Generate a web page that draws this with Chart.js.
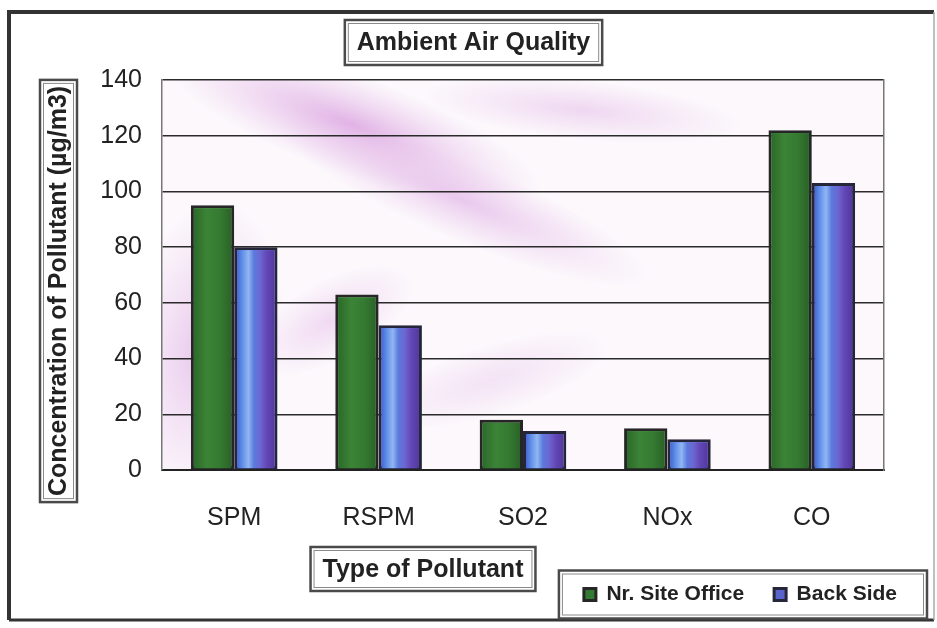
<!DOCTYPE html>
<html>
<head>
<meta charset="utf-8">
<title>Ambient Air Quality</title>
<script src="https://cdn.jsdelivr.net/npm/chart.js@4.4.1/dist/chart.umd.min.js"></script>
<style>
  html, body { margin: 0; padding: 0; background: #fff; }
  canvas { display: block; }
</style>
</head>
<body>
<canvas id="airChart" width="937" height="628"></canvas>
<script>
// values
const pollutants = ['SPM', 'RSPM', 'SO2', 'NOx', 'CO'];
const siteOffice = [95, 63, 18, 15, 122];
const backSide = [80, 52, 14, 11, 103];
const yTicks = [0, 20, 40, 60, 80, 100, 120, 140];

const chartTitle = 'Ambient Air Quality';
const xTitle = 'Type of Pollutant';
const yTitle = 'Concentration of Pollutant (µg/m3)';

const FONT = "'Liberation Sans', Arial, sans-serif";
const ink = '#222';

// double-line box like the old Excel text frames
function frameBox(ctx, x, y, w, h) {
  ctx.save();
  ctx.strokeStyle = '#4a4a4a';
  ctx.lineWidth = 2.5;
  ctx.strokeRect(x, y, w, h);
  ctx.strokeStyle = '#8a8a8a';
  ctx.lineWidth = 1;
  ctx.strokeRect(x + 3.5, y + 3.5, w - 7, h - 7);
  ctx.restore();
}

function blob(ctx, cx, cy, rx, ry, rot, color) {
  ctx.save();
  ctx.translate(cx, cy);
  ctx.rotate(rot);
  ctx.scale(1, ry / rx);
  const g = ctx.createRadialGradient(0, 0, 0, 0, 0, rx);
  g.addColorStop(0, color);
  g.addColorStop(1, 'rgba(230,190,232,0)');
  ctx.fillStyle = g;
  ctx.beginPath();
  ctx.arc(0, 0, rx, 0, Math.PI * 2);
  ctx.fill();
  ctx.restore();
}

const decor = {
  id: 'decor',
  beforeDraw(chart) {
    const { ctx, chartArea: a } = chart;
    ctx.save();
    ctx.fillStyle = '#fff';
    ctx.fillRect(0, 0, chart.width, chart.height);
    // pale pink swirl behind the plot, mostly top-left
    ctx.beginPath();
    ctx.rect(a.left, a.top, a.right - a.left, a.bottom - a.top);
    ctx.clip();
    ctx.fillStyle = '#fcf8fc';
    ctx.fillRect(a.left, a.top, a.right - a.left, a.bottom - a.top);
    blob(ctx, a.left + 190, a.top + 45, 200, 50, 0.35, 'rgba(218,160,224,0.8)');
    blob(ctx, a.left + 300, a.top + 120, 200, 40, 0.4, 'rgba(224,176,230,0.65)');
    blob(ctx, a.left + 420, a.top + 30, 160, 30, 0.1, 'rgba(228,188,232,0.55)');
    blob(ctx, a.left + 40, a.top + 270, 80, 150, 0.15, 'rgba(222,172,228,0.65)');
    blob(ctx, a.left + 170, a.top + 240, 90, 40, -0.5, 'rgba(228,186,232,0.5)');
    blob(ctx, a.left + 330, a.top + 300, 120, 35, -0.3, 'rgba(234,202,238,0.45)');
    ctx.restore();
  },
  afterDatasetsDraw(chart) {
    const { ctx } = chart;
    ctx.save();
    [0, 1].forEach(di => {
      chart.getDatasetMeta(di).data.forEach(bar => {
        const { x, y, base, width } = bar.getProps(['x', 'y', 'base', 'width'], true);
        const l = x - width / 2 + 3, r = x + width / 2 - 3;
        const t = y + 3, b = base - 1;
        if (b <= t) return;
        const g = ctx.createLinearGradient(l, 0, r, 0);
        if (di === 0) {
          g.addColorStop(0, '#2d6a2a');
          g.addColorStop(0.35, '#3b8436');
          g.addColorStop(0.7, '#347a31');
          g.addColorStop(1, '#2b6428');
        } else {
          g.addColorStop(0, '#4568d2');
          g.addColorStop(0.15, '#6393ea');
          g.addColorStop(0.3, '#92b6f2');
          g.addColorStop(0.45, '#5a7ade');
          g.addColorStop(0.62, '#6d66d0');
          g.addColorStop(0.8, '#6146b6');
          g.addColorStop(1, '#55399e');
        }
        ctx.fillStyle = g;
        ctx.fillRect(l, t, r - l, b - t);
      });
    });
    ctx.restore();
  },
  afterDraw(chart) {
    const { ctx, chartArea: a } = chart;
    ctx.save();

    // outer frame of the pasted chart
    ctx.strokeStyle = '#333';
    ctx.lineWidth = 4;
    ctx.beginPath();
    ctx.moveTo(9, 620); ctx.lineTo(9, 12); ctx.lineTo(934, 12);
    ctx.stroke();
    ctx.lineWidth = 3;
    ctx.beginPath();
    ctx.moveTo(9, 620); ctx.lineTo(934, 620);
    ctx.stroke();
    ctx.strokeStyle = '#aaa';
    ctx.lineWidth = 1.5;
    ctx.beginPath();
    ctx.moveTo(934, 12); ctx.lineTo(934, 620);
    ctx.stroke();

    // chart title frame
    const tb = chart.titleBlock;
    ctx.font = 'bold 25px ' + FONT;
    const tw = ctx.measureText(chartTitle).width;
    const tcx = (tb.left + tb.right) / 2;
    const tcy = tb.top + 18 + 15;
    frameBox(ctx, tcx - tw / 2 - 12, tcy - 23, tw + 24, 45);

    // y axis title
    const ycx = 58.5, ycy = 291;
    const yw = ctx.measureText(yTitle).width;
    ctx.save();
    ctx.translate(ycx, ycy);
    ctx.rotate(-Math.PI / 2);
    ctx.fillStyle = ink;
    ctx.textAlign = 'center';
    ctx.textBaseline = 'middle';
    ctx.fillText(yTitle, 0, 1);
    ctx.restore();
    frameBox(ctx, ycx - 18.5, ycy - yw / 2 - 6, 37, yw + 12);

    // x axis title
    const xcx = a.left + 261, xcy = 569;
    const xw = ctx.measureText(xTitle).width;
    ctx.fillStyle = ink;
    ctx.textAlign = 'center';
    ctx.textBaseline = 'middle';
    ctx.fillText(xTitle, xcx, xcy + 1);
    frameBox(ctx, xcx - xw / 2 - 12, xcy - 22, xw + 24, 44);

    // legend frame
    const hb = chart.legend.legendHitBoxes;
    if (hb && hb.length) {
      const first = hb[0], last = hb[hb.length - 1];
      const lcy = first.top + first.height / 2;
      frameBox(ctx, first.left - 25, lcy - 24, last.left + last.width - first.left + 55, 48);
    }
    ctx.restore();
  }
};

new Chart(document.getElementById('airChart'), {
  type: 'bar',
  data: {
    labels: pollutants,
    datasets: [
      {
        label: 'Nr. Site Office',
        data: siteOffice,
        backgroundColor: '#357a33',
        borderColor: '#262626',
        borderWidth: 3,
        borderSkipped: false,
        barPercentage: 1,
        categoryPercentage: 0.6
      },
      {
        label: 'Back Side',
        data: backSide,
        backgroundColor: '#5a62cc',
        borderColor: '#26263a',
        borderWidth: 3,
        borderSkipped: false,
        barPercentage: 1,
        categoryPercentage: 0.6
      }
    ]
  },
  options: {
    responsive: false,
    animation: false,
    layout: { padding: { left: 20, right: 10, top: 10, bottom: 13 } },
    scales: {
      x: {
        grid: { display: false },
        border: { display: true, color: '#222', width: 2 },
        ticks: { color: ink, padding: 25, font: { family: FONT, size: 25 } },
        afterFit: s => { s.height = 84; }
      },
      y: {
        min: 0,
        max: 140,
        afterBuildTicks: s => { s.ticks = yTicks.map(v => ({ value: v })); },
        grid: { color: '#2a2a2a', lineWidth: 1.5, drawTicks: false },
        border: { display: true, color: '#777', width: 1.5 },
        ticks: { color: ink, padding: 20, font: { family: FONT, size: 25 } },
        afterFit: s => { s.width = 142; }
      },
      yRight: {
        position: 'right',
        grid: { display: false, drawTicks: false },
        border: { display: true, color: '#777', width: 1.5 },
        ticks: { display: false },
        afterFit: s => { s.width = 43; }
      }
    },
    plugins: {
      title: {
        display: true,
        text: chartTitle,
        color: ink,
        font: { family: FONT, size: 25, weight: 'bold' },
        padding: { top: 18, bottom: 22 }
      },
      legend: {
        position: 'bottom',
        align: 'end',
        labels: {
          color: ink,
          boxWidth: 12,
          boxHeight: 12,
          padding: 30,
          font: { family: FONT, size: 21, weight: 'bold' }
        }
      },
      tooltip: { enabled: false }
    }
  },
  plugins: [decor]
});
</script>
</body>
</html>
